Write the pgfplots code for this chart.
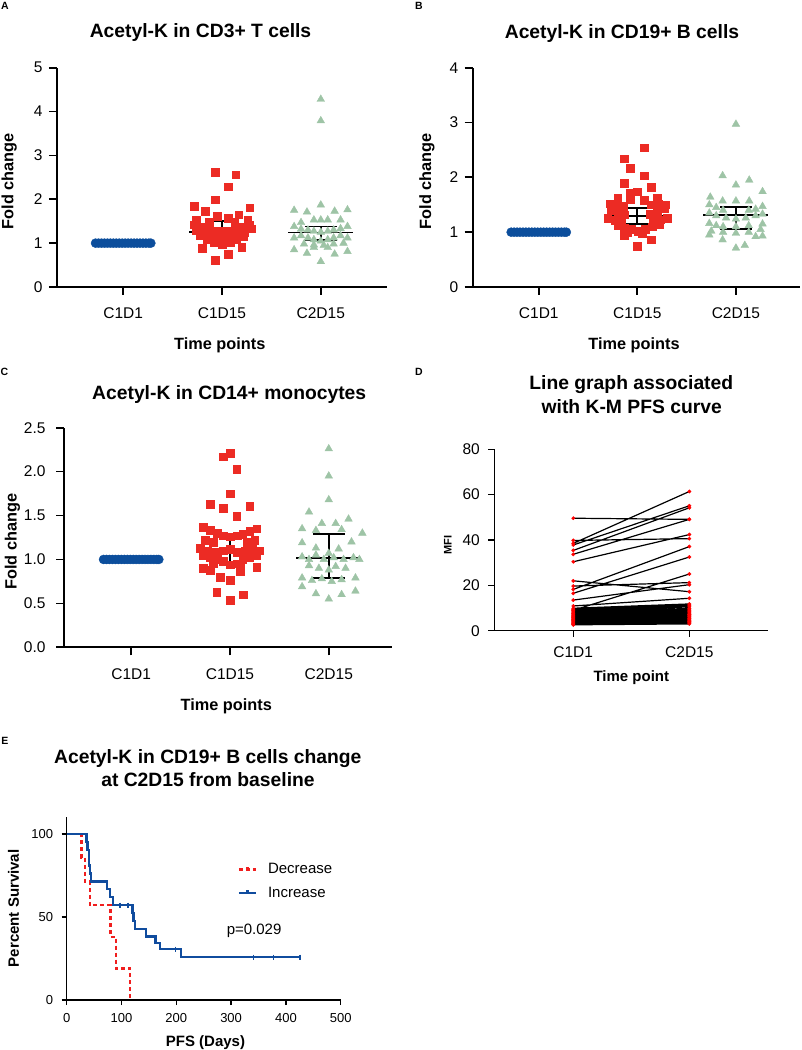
\documentclass[border=0pt]{standalone}
\usepackage{pgfplots}
\pgfplotsset{compat=1.18}
\usepackage{pgfplotstable}
\usepackage{fontspec}
\setmainfont{Liberation Sans}
\definecolor{gpblue}{RGB}{12,78,156}
\definecolor{gpred}{RGB}{236,43,36}
\definecolor{gpgreen}{RGB}{158,196,166}
\definecolor{kmblue}{RGB}{16,76,158}
\definecolor{kmred}{RGB}{240,30,30}
\newcommand{\tickfont}{\fontsize{15.5}{18}\selectfont}
\newcommand{\titlefont}{\fontsize{19.3}{23}\selectfont\bfseries}
\newcommand{\labfont}{\fontsize{16.3}{19}\selectfont\bfseries}
\newcommand{\letfont}{\fontsize{10.5}{12}\selectfont\bfseries}
\pgfplotsset{
  gp/.style={
    scale only axis,
    axis lines=left,
    axis line style={-, line width=1.7pt},
    tick align=outside,
    major tick length=8pt,
    every tick/.style={black, line width=1.7pt},
    tick label style={font=\tickfont},
    xticklabel shift=9pt,
    yticklabel shift=3pt,
    /pgf/number format/assume math mode=true,
    clip=false,
    xtick={0,1,2},
    xticklabels={C1D1,C1D15,C2D15},
    xmin=-0.67, xmax=2.67, ymin=0,
  },
  blueswarm/.style={only marks, mark=*, mark size=4.5pt, color=gpblue},
  redswarm/.style={only marks, mark=square*, mark size=3.85pt, color=gpred},
  greenswarm/.style={only marks, mark=triangle*, mark size=4.4pt, color=gpgreen},
  medline/.style={black, line width=1.7pt, unbounded coords=jump, no marks},
}

\pgfplotstableread{
x y
-0.28 1
-0.25 1
-0.22 1
-0.19 1
-0.16 1
-0.13 1
-0.10 1
-0.07 1
-0.04 1
-0.01 1
0.02 1
0.05 1
0.08 1
0.11 1
0.14 1
0.17 1
0.20 1
0.23 1
0.26 1
0.28 1
}\baseline

\pgfplotstableread{
x y
0.93 2.61
1.14 2.56
1.06 2.29
0.93 1.99
0.72 1.85
0.83 1.73
1.28 1.81
0.95 1.62
1.17 1.65
1.06 1.57
0.74 1.52
1.26 1.53
0.87 1.48
1.13 1.47
0.72 1.42
0.79 1.36
0.86 1.31
0.93 1.28
1.00 1.27
1.07 1.28
1.14 1.31
1.21 1.36
1.28 1.42
0.74 1.30
0.81 1.22
0.88 1.15
0.95 1.10
1.02 1.08
1.09 1.10
1.16 1.16
1.23 1.24
1.30 1.33
0.78 1.18
0.85 1.08
0.92 1.02
1.00 0.98
1.08 1.02
1.15 1.08
1.22 1.16
0.80 0.89
1.20 0.90
1.06 0.74
0.93 0.61
}\Ared

\pgfplotstableread{
x y
2.00 4.28
2.00 3.79
2.00 1.87
1.73 1.75
1.86 1.71
2.14 1.73
2.27 1.76
1.93 1.53
2.00 1.53
2.07 1.53
2.20 1.53
1.80 1.47
1.73 1.38
1.80 1.32
1.87 1.30
1.93 1.27
2.00 1.25
2.07 1.27
2.13 1.30
2.20 1.33
2.27 1.38
1.73 1.12
1.80 1.17
1.87 1.12
1.93 1.08
2.00 1.05
2.07 1.08
2.13 1.12
2.20 1.17
2.27 1.12
1.83 0.98
1.93 0.96
2.03 0.95
2.13 0.98
2.23 1.00
1.73 0.85
1.86 0.77
2.00 0.58
2.14 0.75
2.27 0.81
1.93 0.90
2.07 0.90
}\Agreen

\pgfplotstableread{
x y
1.07 2.54
0.865 2.34
0.93 2.17
1.07 2.03
0.865 1.89
1.14 1.82
0.93 1.72
1.00 1.74
0.80 1.62
0.93 1.60
1.07 1.58
1.20 1.62
0.72 1.52
0.79 1.50
0.86 1.48
1.14 1.50
1.21 1.52
1.28 1.50
0.73 1.40
0.80 1.36
0.87 1.32
1.13 1.33
1.20 1.37
1.27 1.43
0.70 1.25
0.77 1.22
0.84 1.20
1.16 1.20
1.23 1.23
1.30 1.26
0.80 1.12
0.87 1.08
0.94 1.05
1.01 1.02
1.08 1.05
1.15 1.10
1.22 1.14
0.90 1.00
1.05 0.98
0.865 0.95
1.14 0.86
1.00 0.74
}\Bred

\pgfplotstableread{
x y
2.00 2.97
1.865 2.03
2.135 1.95
2.00 1.86
2.27 1.74
1.74 1.64
1.865 1.57
2.00 1.57
2.135 1.57
2.27 1.47
1.73 1.50
1.80 1.45
1.87 1.40
2.13 1.40
2.20 1.42
1.73 1.35
1.80 1.30
1.90 1.26
2.00 1.24
2.10 1.26
2.20 1.30
2.27 1.33
1.73 1.16
1.80 1.12
1.87 1.10
2.00 1.10
2.13 1.12
2.27 1.15
1.75 1.02
1.87 1.00
2.00 0.98
2.13 1.00
2.25 1.05
1.73 0.95
1.865 0.86
2.00 0.71
2.09 0.76
2.20 0.92
2.27 0.93
}\Bgreen

\pgfplotstableread{
x y
1.00 2.21
0.933 2.17
1.067 2.03
1.00 1.75
0.80 1.63
0.933 1.58
1.20 1.61
1.067 1.49
0.73 1.37
0.80 1.33
0.87 1.30
0.93 1.27
1.00 1.26
1.07 1.27
1.13 1.29
1.20 1.32
1.27 1.35
0.75 1.22
0.83 1.20
1.17 1.20
1.25 1.22
0.70 1.13
0.77 1.10
0.85 1.08
0.93 1.10
1.00 1.12
1.07 1.08
1.15 1.10
1.23 1.12
1.30 1.10
0.73 1.05
0.80 1.02
0.87 1.00
0.93 0.98
1.07 0.95
1.13 1.00
1.20 1.02
1.27 1.05
0.83 0.96
1.00 0.94
1.10 0.93
0.73 0.90
0.80 0.88
0.90 0.80
1.00 0.76
1.27 0.91
1.10 0.86
0.865 0.63
1.135 0.60
1.00 0.54
}\Cred

\pgfplotstableread{
x y
2.00 2.26
2.00 1.95
2.00 1.68
1.80 1.54
1.93 1.41
2.07 1.41
2.20 1.46
1.73 1.35
1.87 1.33
2.13 1.34
2.34 1.30
1.73 1.19
1.87 1.13
2.00 1.07
2.10 1.12
2.23 1.20
1.73 1.03
1.80 1.00
1.87 1.05
1.95 1.00
2.05 1.02
2.15 1.00
2.25 1.02
2.31 1.00
1.80 0.93
1.90 0.90
2.00 0.88
2.07 0.92
2.17 0.90
1.73 0.79
1.83 0.76
1.93 0.78
2.03 0.75
2.13 0.77
2.27 0.79
1.73 0.69
1.87 0.61
2.00 0.55
2.13 0.60
2.27 0.64
}\Cgreen

\pgfplotstableread{
x y
0 49.6
1 49.1
0.5 nan
0 39.8
1 40.6
0.5 nan
0 38.5
1 61.4
0.5 nan
0 37.8
1 55.1
0.5 nan
0 35.4
1 54.2
0.5 nan
0 33.7
1 49.1
0.5 nan
0 30.4
1 42.4
0.5 nan
0 22.0
1 17.2
0.5 nan
0 19.7
1 21.2
0.5 nan
0 18.2
1 37.1
0.5 nan
0 16.5
1 32.5
0.5 nan
0 13.5
1 20.3
0.5 nan
0 10.9
1 14.3
0.5 nan
0 9.0
1 25.0
0.5 nan
0 9.9
1 11.8
0.5 nan
0 9.5
1 11.3
0.5 nan
0 9.2
1 10.9
0.5 nan
0 8.7
1 10.5
0.5 nan
0 8.3
1 9.8
0.5 nan
0 7.9
1 9.5
0.5 nan
0 7.5
1 9.0
0.5 nan
0 7.1
1 8.6
0.5 nan
0 6.8
1 8.2
0.5 nan
0 6.5
1 7.8
0.5 nan
0 6.2
1 7.4
0.5 nan
0 5.9
1 7.0
0.5 nan
0 5.6
1 6.6
0.5 nan
0 5.3
1 6.3
0.5 nan
0 5.0
1 6.0
0.5 nan
0 4.7
1 5.6
0.5 nan
0 4.4
1 5.3
0.5 nan
0 4.1
1 5.0
0.5 nan
0 3.8
1 4.6
0.5 nan
0 3.5
1 4.3
0.5 nan
0 3.2
1 4.0
0.5 nan
0 3.0
1 3.6
0.5 nan
0 2.8
1 3.3
0.5 nan
0 2.6
1 3.0
0.5 nan
0 6.0
1 5.2
0.5 nan
0 4.8
1 4.2
0.5 nan
0 7.7
1 7.0
}\Dpairs

\begin{document}
\begin{tikzpicture}
\useasboundingbox (0pt,0pt) rectangle (802pt,1050pt);

% ---------------- A
\begin{axis}[gp, at={(57pt,763pt)}, anchor=south west, width=330pt, height=219.3pt,
  ymax=5, ytick={0,1,2,3,4,5},
  after end axis/.code={
    \foreach \v in {0,1,2} {\draw[line width=1.7pt] (axis cs:\v,0) -- ++(0pt,-8pt);}
    \foreach \v in {0,1,2,3,4,5} {\draw[line width=1.7pt] (axis cs:-0.67,\v) -- ++(-8pt,0pt);}
  }]
\addplot[blueswarm] table {\baseline};
\addplot[redswarm] table {\Ared};
\addplot[greenswarm] table {\Agreen};
\addplot[medline] coordinates {(0.67,1.25)(1.33,1.25)(1,nan)(0.84,1.50)(1.16,1.50)(1,nan)(0.84,1.13)(1.16,1.13)(1,nan)(1,1.13)(1,1.50)};
\addplot[medline] coordinates {(1.67,1.24)(2.33,1.24)(2,nan)(1.84,1.38)(2.16,1.38)(2,nan)(1.84,1.07)(2.16,1.07)(2,nan)(2,1.07)(2,1.38)};
\end{axis}

% ---------------- B
\begin{axis}[gp, at={(472.7pt,763pt)}, anchor=south west, width=327.3pt, height=219.3pt,
  xmax=2.65, ymax=4, ytick={0,1,2,3,4},
  after end axis/.code={
    \foreach \v in {0,1,2} {\draw[line width=1.7pt] (axis cs:\v,0) -- ++(0pt,-8pt);}
    \foreach \v in {0,1,2,3,4} {\draw[line width=1.7pt] (axis cs:-0.67,\v) -- ++(-8pt,0pt);}
  }]
\addplot[blueswarm] table {\baseline};
\addplot[redswarm] table {\Bred};
\addplot[greenswarm] table {\Bgreen};
\addplot[medline] coordinates {(0.67,1.29)(1.33,1.29)(1,nan)(0.84,1.44)(1.16,1.44)(1,nan)(0.84,1.15)(1.16,1.15)(1,nan)(1,1.15)(1,1.44)};
\addplot[medline] coordinates {(1.67,1.31)(2.33,1.31)(2,nan)(1.84,1.46)(2.16,1.46)(2,nan)(1.84,1.06)(2.16,1.06)(2,nan)(2,1.06)(2,1.46)};
\end{axis}

% ---------------- C
\begin{axis}[gp, at={(64pt,402.7pt)}, anchor=south west, width=328pt, height=219.6pt,
  xmin=-0.68, xmax=2.64, ymax=2.5, ytick={0,0.5,1,1.5,2,2.5},
  yticklabel shift=7pt, xticklabel shift=10pt,
  yticklabel style={/pgf/number format/.cd, fixed, fixed zerofill, precision=1},
  after end axis/.code={
    \foreach \v in {0,1,2} {\draw[line width=1.7pt] (axis cs:\v,0) -- ++(0pt,-8pt);}
    \foreach \v in {0,0.5,1,1.5,2,2.5} {\draw[line width=1.7pt] (axis cs:-0.68,\v) -- ++(-8pt,0pt);}
  }]
\addplot[blueswarm] table {\baseline};
\addplot[redswarm] table {\Cred};
\addplot[greenswarm] table {\Cgreen};
\addplot[medline] coordinates {(0.67,1.10)(1.33,1.10)(1,nan)(0.84,1.29)(1.16,1.29)(1,nan)(0.84,0.96)(1.16,0.96)(1,nan)(1,0.96)(1,1.29)};
\addplot[medline] coordinates {(1.67,1.02)(2.33,1.02)(2,nan)(1.84,1.29)(2.16,1.29)(2,nan)(1.84,0.79)(2.16,0.79)(2,nan)(2,0.79)(2,1.29)};
\end{axis}

% ---------------- D
\begin{axis}[gp, at={(494.3pt,419.3pt)}, anchor=south west, width=274pt, height=181.4pt,
  axis line style={-, line width=1.4pt}, every tick/.style={black, line width=1.4pt}, major tick length=6pt,
  xticklabel shift=6pt, yticklabel shift=5pt,
  xmin=-0.68, xmax=1.68, xtick={0,1}, xticklabels={C1D1,C2D15},
  ymax=80, ytick={0,20,40,60,80},
  after end axis/.code={
    \foreach \v in {0,1} {\draw[line width=1.4pt] (axis cs:\v,0) -- ++(0pt,-6pt);}
    \foreach \v in {0,20,40,60,80} {\draw[line width=1.4pt] (axis cs:-0.68,\v) -- ++(-6pt,0pt);}
  }]
\addplot[black, line width=1.2pt, unbounded coords=jump, no marks] table {\Dpairs};
\addplot[only marks, mark=*, mark size=1.7pt, color=red] table {\Dpairs};
\end{axis}

% ---------------- E
\begin{axis}[gp, at={(66.7pt,50pt)}, anchor=south west, width=274pt, height=182.6pt,
  axis line style={-, line width=1.3pt}, every tick/.style={black, line width=1.3pt}, major tick length=5pt,
  xticklabel shift=5pt, yticklabel shift=5pt,
  tick label style={font=\fontsize{13}{15}\selectfont},
  xmin=0, xmax=500, xtick={0,100,200,300,400,500}, xticklabels={0,100,200,300,400,500},
  ymin=0, ymax=110, ytick={0,50,100},
  legend style={at={(axis cs:312,83.5)}, anchor=north west, draw=none, fill=none,
    font=\fontsize{15}{18}\selectfont, row sep=8pt, column sep=9pt, inner sep=0pt},
  legend cell align=left,
  legend image code/.code={\draw[#1] (0pt,0pt) -- (17pt,0pt); \draw[#1,solid] (8.5pt,0pt) -- (8.5pt,3pt);},
  after end axis/.code={
    \foreach \v in {0,100,200,300,400,500} {\draw[line width=1.3pt] (axis cs:\v,0) -- ++(0pt,-5pt);}
    \foreach \v in {0,50,100} {\draw[line width=1.3pt] (axis cs:0,\v) -- ++(-5pt,0pt);}
  }]
\addplot[const plot, kmred, line width=2.2pt, dash pattern=on 4pt off 3pt] coordinates {(0,100)(27,85.7)(33,71.4)(42,57.1)(80,38.1)(90,19.0)(116,0)};
\addlegendentry{Decrease}
\addplot[const plot, kmblue, line width=2.2pt] coordinates {(0,100)(36,95.2)(38,90.5)(40,85.7)(41,81.0)(43,76.2)(45,71.4)(73,66.7)(79,61.9)(84,57.1)(120,52.4)(122,47.6)(124,42.9)(144,38.3)(162,34.4)(170,30.6)(209,25.8)(426,25.8)};
\addlegendentry{Increase}
\addplot[forget plot, only marks, mark=|, mark size=2.5pt, kmblue, mark options={line width=1.3pt}] coordinates {(97,57.1)(112,57.1)(199,30.6)(341,25.8)(378,25.8)(426,25.8)};
\node[font=\fontsize{15}{18}\selectfont, anchor=center] at (axis cs:342,41.7) {p=0.029};
\end{axis}

% ---------------- texts
\node[font=\titlefont, anchor=base] at (200.5pt,1012.3pt) {Acetyl-K in CD3+ T cells};
\node[font=\titlefont, anchor=base] at (622pt,1011.7pt) {Acetyl-K in CD19+ B cells};
\node[font=\titlefont, anchor=base] at (229.2pt,650.7pt) {Acetyl-K in CD14+ monocytes};
\node[font=\titlefont, anchor=base] at (631.3pt,660pt) {Line graph associated};
\node[font=\titlefont, anchor=base] at (631.7pt,636.7pt) {with K-M PFS curve};
\node[font=\titlefont, anchor=base] at (207.8pt,286.7pt) {Acetyl-K in CD19+ B cells change};
\node[font=\titlefont, anchor=base] at (208pt,263.3pt) {at C2D15 from baseline};

\node[font=\labfont, anchor=base] at (219.8pt,700.7pt) {Time points};
\node[font=\labfont, anchor=base] at (634pt,700.7pt) {Time points};
\node[font=\labfont, anchor=base] at (226.3pt,339.3pt) {Time points};
\node[font=\fontsize{15}{18}\selectfont\bfseries, anchor=base] at (631.3pt,368.3pt) {Time point};
\node[font=\fontsize{15}{18}\selectfont\bfseries, anchor=base] at (205.5pt,4pt) {PFS (Days)};

\node[font=\labfont, anchor=base, rotate=90] at (13.3pt,868.7pt) {Fold change};
\node[font=\labfont, anchor=base, rotate=90] at (431pt,868.7pt) {Fold change};
\node[font=\labfont, anchor=base, rotate=90] at (16.7pt,508.3pt) {Fold change};
\node[font=\fontsize{11}{13}\selectfont\bfseries, anchor=base, rotate=90] at (451.7pt,504.8pt) {MFI};
\node[font=\fontsize{15}{18}\selectfont\bfseries, anchor=base, rotate=90] at (19pt,141.7pt) {Percent Survival};

\node[font=\letfont] at (5pt,1044.5pt) {A};
\node[font=\letfont] at (418.8pt,1044pt) {B};
\node[font=\letfont] at (4.5pt,677.8pt) {C};
\node[font=\letfont] at (418.8pt,678.3pt) {D};
\node[font=\letfont] at (5pt,309.2pt) {E};
\end{tikzpicture}
\end{document}
